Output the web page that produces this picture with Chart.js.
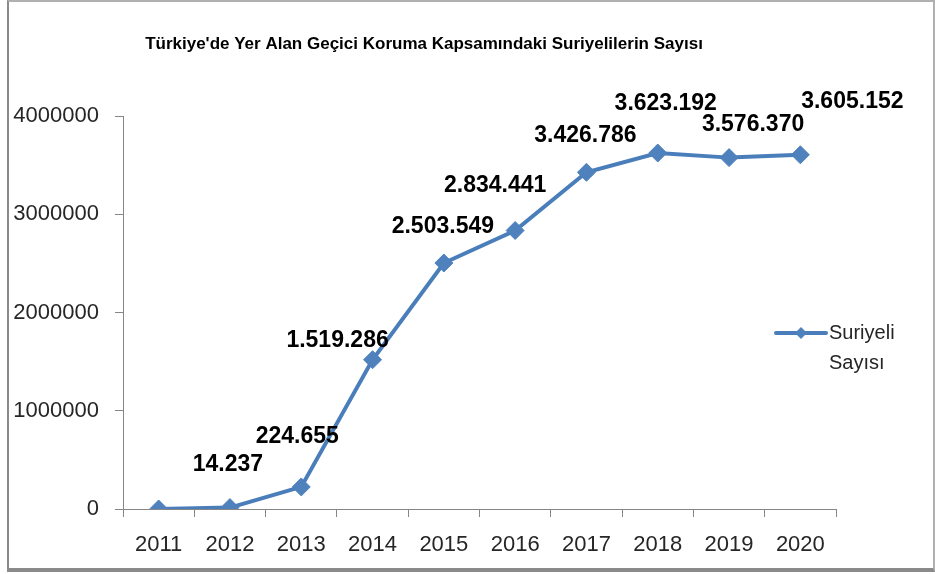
<!DOCTYPE html>
<html>
<head>
<meta charset="utf-8">
<script src="https://cdn.jsdelivr.net/npm/chart.js@4.4.1/dist/chart.umd.min.js"></script>
<style>
  html, body { margin: 0; padding: 0; background: #fff; }
  #wrap { position: relative; width: 935px; height: 574px; }
  #frame { position: absolute; left: 7px; top: 0px; width: 924px; height: 566px;
           border-left: 2px solid #8a8a8a; border-top: 2px solid #b0b0b0;
           border-bottom: 4px solid #8a8a8a; border-right: 2px solid #b0b0b0; pointer-events: none; }
  canvas { position: absolute; left: 0; top: 0; }
</style>
</head>
<body>
<div id="wrap">
  <canvas id="c" width="935" height="574"></canvas>
  <div id="frame"></div>
</div>
<script>
const categories = ["2011", "2012", "2013", "2014", "2015", "2016", "2017", "2018", "2019", "2020"];
const suriyeliSayisi = [0, 14237, 224655, 1519286, 2503549, 2834441, 3426786, 3623192, 3576370, 3605152];
const yTicks = [0, 1000000, 2000000, 3000000, 4000000];
const seriesName = ["Suriyeli", "Sayısı"];
const chartTitle = "Türkiye'de Yer Alan Geçici Koruma Kapsamındaki Suriyelilerin Sayısı";

function fmtTR(v) {
  return String(v).replace(/\B(?=(\d{3})+(?!\d))/g, ".");
}

const labelPlugin = {
  id: 'customLabels',
  afterDatasetsDraw(chart, args, opts) {
    const ctx = chart.ctx;
    const meta = chart.getDatasetMeta(0);
    ctx.save();
    ctx.font = 'bold 23px "Liberation Sans", Arial, sans-serif';
    ctx.fillStyle = '#000';
    ctx.textAlign = 'center';
    ctx.textBaseline = 'middle';
    meta.data.forEach((pt, i) => {
      const v = suriyeliSayisi[i];
      if (!v) return;
      const off = opts.offsets[i] || [0, -40];
      ctx.fillText(fmtTR(v), pt.x + off[0], pt.y + off[1]);
    });
    ctx.restore();
  }
};

const decorPlugin = {
  id: 'decor',
  afterDraw(chart, args, opts) {
    const ctx = chart.ctx;
    ctx.save();
    // title
    ctx.font = 'bold 17px "Liberation Sans", Arial, sans-serif';
    ctx.fillStyle = '#000';
    ctx.textAlign = 'center';
    ctx.textBaseline = 'middle';
    ctx.fillText(chartTitle, opts.titleX, opts.titleY);
    // legend
    const lx = opts.legendX, ly = opts.legendY;
    ctx.strokeStyle = '#4a7ebb';
    ctx.lineWidth = 4;
    ctx.lineCap = 'round';
    ctx.beginPath();
    ctx.moveTo(lx, ly);
    ctx.lineTo(lx + 50, ly);
    ctx.stroke();
    ctx.fillStyle = '#4f81bd';
    ctx.beginPath();
    ctx.moveTo(lx + 25 - 6, ly); ctx.lineTo(lx + 25, ly - 6); ctx.lineTo(lx + 31, ly); ctx.lineTo(lx + 25, ly + 6);
    ctx.closePath(); ctx.fill();
    ctx.font = '20px "Liberation Sans", Arial, sans-serif';
    ctx.fillStyle = '#262626';
    ctx.textAlign = 'left';
    ctx.fillText(seriesName[0], lx + 53, ly);
    ctx.fillText(seriesName[1], lx + 53, ly + 30);
    ctx.restore();
  }
};

new Chart(document.getElementById('c'), {
  type: 'line',
  data: {
    labels: categories,
    datasets: [{
      label: seriesName.join(' '),
      data: suriyeliSayisi,
      borderColor: '#4a7ebb',
      backgroundColor: '#4f81bd',
      borderWidth: 4,
      pointStyle: 'rectRot',
      pointRadius: 9,
      pointBackgroundColor: '#4f81bd',
      pointBorderColor: '#4f81bd',
      pointBorderWidth: 1,
      tension: 0,
      fill: false
    }]
  },
  options: {
    responsive: false,
    animation: false,
    events: [],
    layout: { padding: { top: 116, right: 99, left: 0, bottom: 0 } },
    plugins: {
      legend: { display: false },
      title: { display: false },
      tooltip: { enabled: false },
      customLabels: {
        offsets: [[0, 0], [-2, -43], [-4, -50], [-35, -19], [-1, -36], [-20, -45], [-1, -37], [8, -49], [24, -33], [52, -53]]
      },
      decor: { titleX: 424, titleY: 44, legendX: 776, legendY: 333 }
    },
    scales: {
      x: {
        type: 'category',
        offset: true,
        grid: { offset: true, drawOnChartArea: false, drawTicks: true, tickLength: 8, color: '#868686', tickColor: '#868686' },
        border: { display: true, color: '#868686', width: 1 },
        ticks: { color: '#262626', font: { family: '"Liberation Sans", Arial, sans-serif', size: 22 }, padding: 15, maxRotation: 0, autoSkip: false },
        afterFit(scale) { scale.height = 65; }
      },
      y: {
        min: 0,
        max: 4000000,
        afterBuildTicks(scale) { scale.ticks = yTicks.map(v => ({ value: v })); },
        grid: { drawOnChartArea: false, drawTicks: true, tickLength: 8, color: '#868686', tickColor: '#868686' },
        border: { display: true, color: '#868686', width: 1 },
        ticks: { color: '#262626', font: { family: '"Liberation Sans", Arial, sans-serif', size: 22 }, padding: 16, callback: v => String(v) },
        afterFit(scale) { scale.width = 123; }
      }
    }
  },
  plugins: [labelPlugin, decorPlugin]
});
</script>
</body>
</html>
